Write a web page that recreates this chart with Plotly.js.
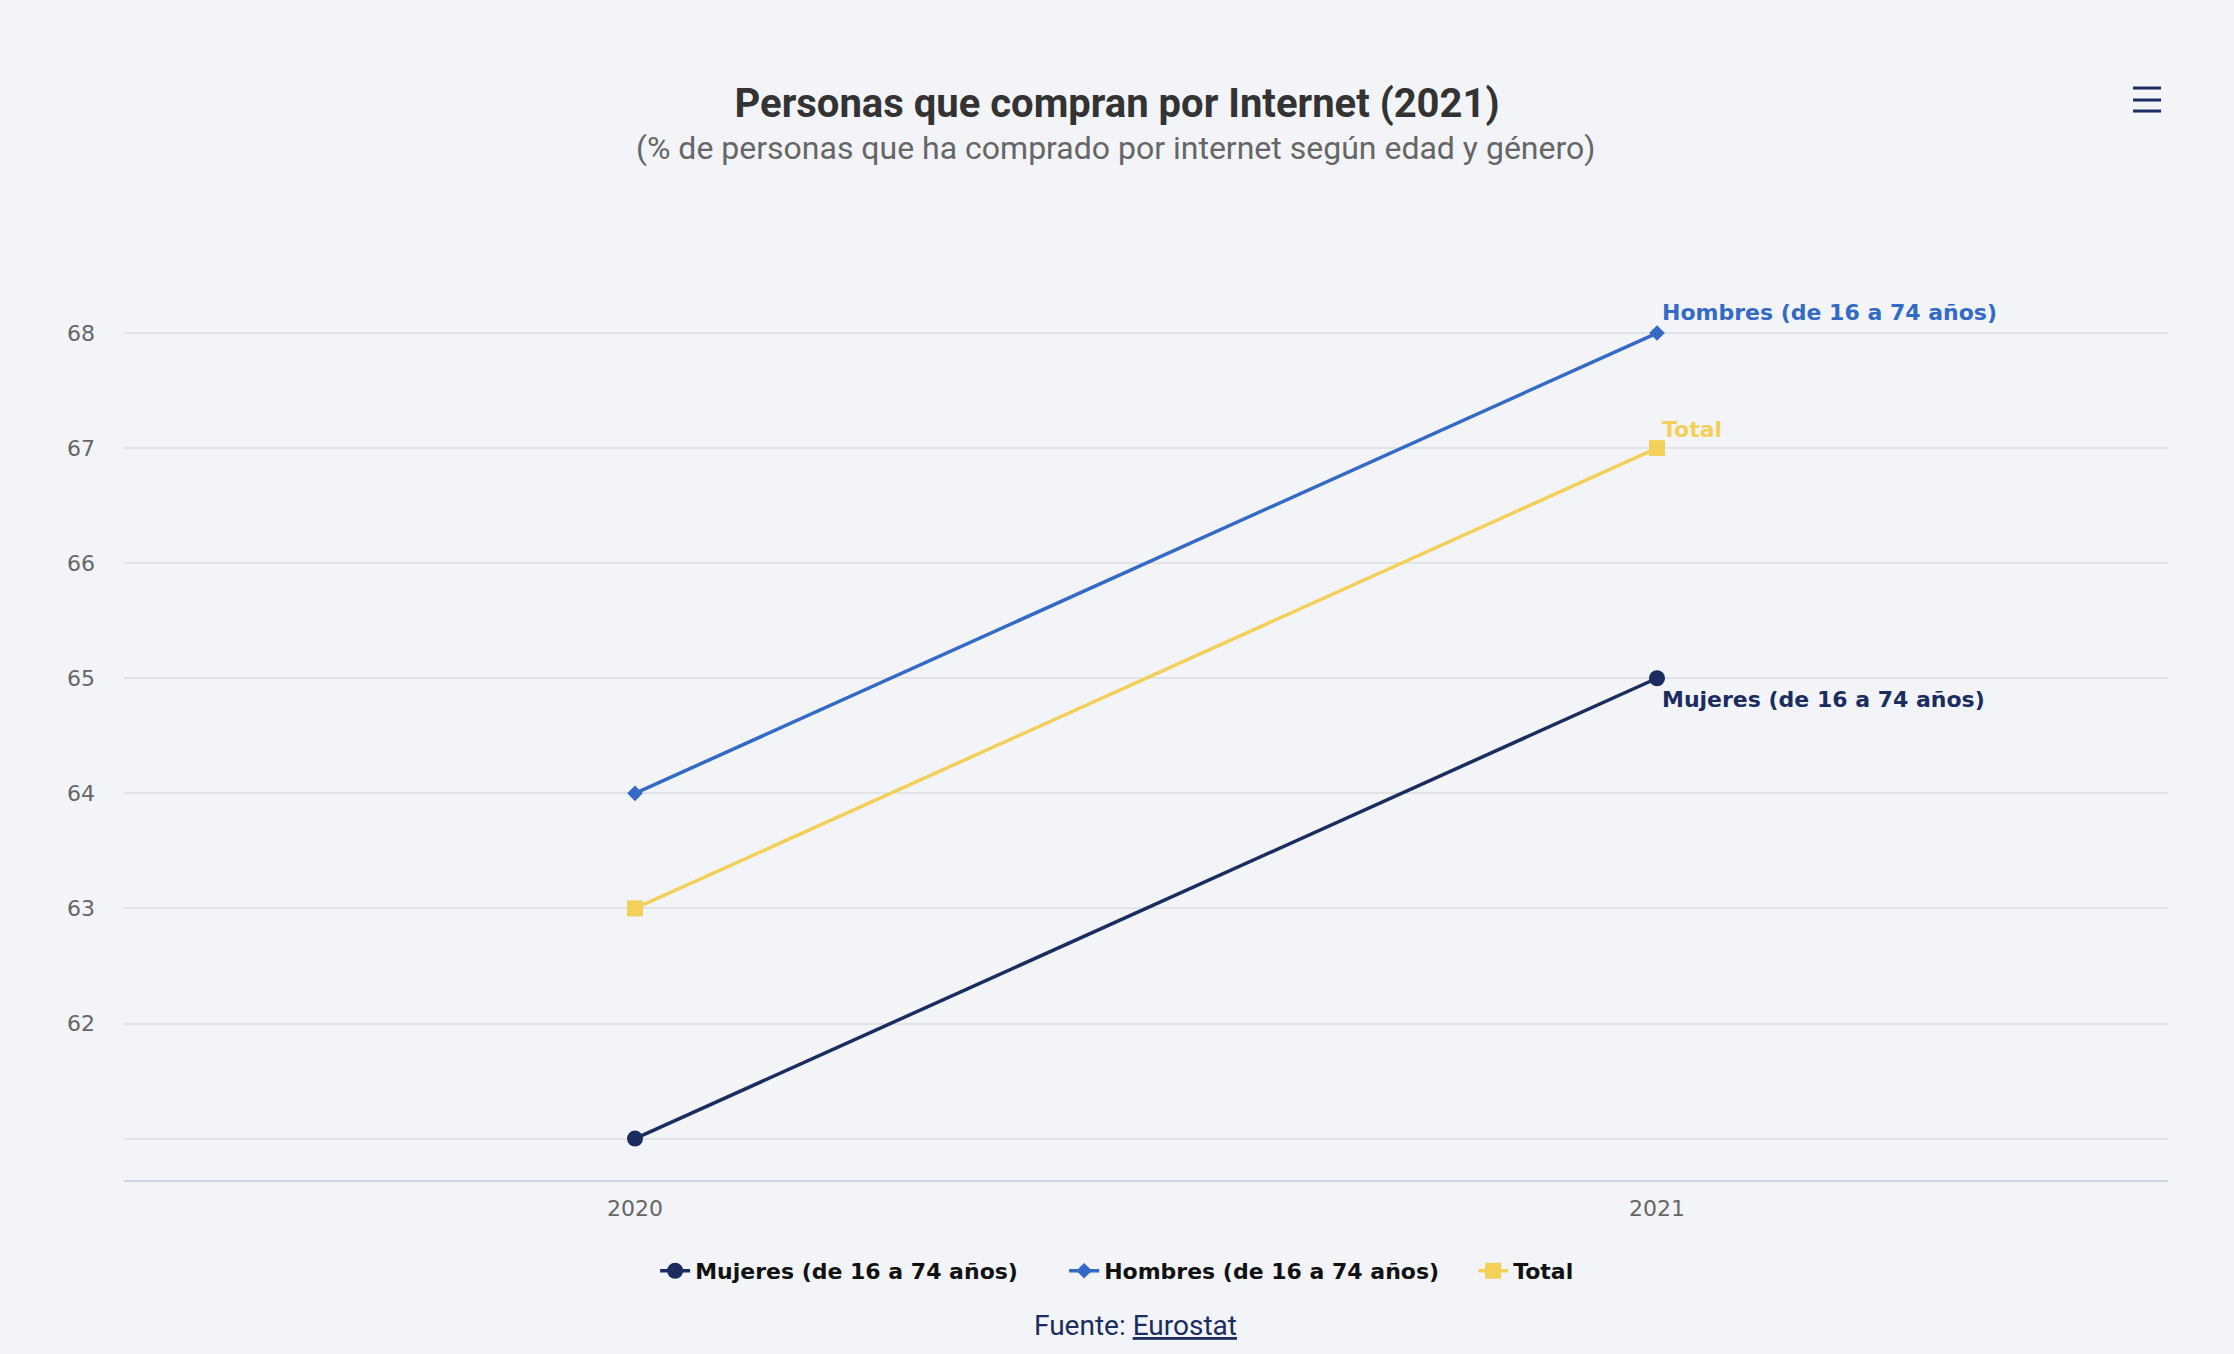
<!DOCTYPE html>
<html>
<head>
<meta charset="utf-8">
<script src="https://cdn.plot.ly/plotly-3.0.1.min.js"></script>
<style>
  html, body { margin: 0; padding: 0; background: #f2f4f8; }
  #chart { width: 2234px; height: 1354px; }
</style>
</head>
<body>
<div id="chart"></div>
<script>
// data
var years = [2020, 2021];
var mujeres = [61, 65];
var hombres = [64, 68];
var total = [63, 67];

var seriesNames = ['Mujeres (de 16 a 74 años)', 'Hombres (de 16 a 74 años)', 'Total'];
var seriesColors = ['#1b2d5f', '#3469c6', '#f3d05a'];
var yTicks = [61, 62, 63, 64, 65, 66, 67, 68];
var yTickText = ['', '62', '63', '64', '65', '66', '67', '68'];

var labelFont = { family: 'DejaVu Sans, Verdana, sans-serif', size: 22, weight: 'bold' };
var tickFont = { family: 'DejaVu Sans, Verdana, sans-serif', size: 22, color: '#666666' };

function makeTrace(name, values, color, symbol, size) {
    return {
        x: years,
        y: values,
        name: name,
        type: 'scatter',
        mode: 'lines+markers',
        line: { color: color, width: 3.5 },
        marker: { color: color, symbol: symbol, size: size },
        hoverinfo: 'x+y+name'
    };
}

var data = [
    makeTrace(seriesNames[0], mujeres, seriesColors[0], 'circle', 16),
    makeTrace(seriesNames[1], hombres, seriesColors[1], 'diamond', 12),
    makeTrace(seriesNames[2], total, seriesColors[2], 'square', 16)
];

// end-of-line labels next to the 2021 points
var endLabels = [
    { text: seriesNames[1], y: hombres[1], color: seriesColors[1], yanchor: 'bottom', yshift: 6 },
    { text: seriesNames[2], y: total[1], color: seriesColors[2], yanchor: 'bottom', yshift: 4 },
    { text: seriesNames[0], y: mujeres[1], color: seriesColors[0], yanchor: 'top', yshift: -7 }
].map(function (l) {
    return {
        x: years[1], y: l.y, xref: 'x', yref: 'y',
        text: l.text, showarrow: false,
        xanchor: 'left', yanchor: l.yanchor, xshift: 3, yshift: l.yshift,
        font: Object.assign({}, labelFont, { color: l.color })
    };
});

var layout = {
    width: 2234,
    height: 1354,
    paper_bgcolor: '#f2f4f8',
    plot_bgcolor: '#f2f4f8',
    margin: { l: 124, r: 66, t: 264, b: 174 },
    title: {
        text: 'Personas que compran por Internet (2021)',
        font: { family: 'Roboto, sans-serif', size: 40, weight: 'bold', color: '#333333' },
        x: 0.5, xanchor: 'center',
        y: 1 - 103 / 1354, yanchor: 'middle', yref: 'container'
    },
    xaxis: {
        range: [2019.5, 2021.5],
        tickvals: years,
        showgrid: false,
        zeroline: false,
        showline: true,
        linecolor: '#ccd6eb',
        linewidth: 1.5,
        ticks: '',
        ticklabelstandoff: 8,
        tickfont: tickFont,
        fixedrange: true
    },
    yaxis: {
        range: [60.64, 68.6],
        tickvals: yTicks,
        ticktext: yTickText,
        showgrid: true,
        gridcolor: '#e2e3e7',
        gridwidth: 1.5,
        zeroline: false,
        showline: false,
        ticks: '',
        ticklabelstandoff: 28,
        tickfont: tickFont,
        fixedrange: true
    },
    showlegend: true,
    legend: {
        orientation: 'h',
        x: 0.56, xanchor: 'center',
        y: -0.0993, yanchor: 'middle',
        entrywidth: 364,
        entrywidthmode: 'pixels',
        font: { family: 'DejaVu Sans, Verdana, sans-serif', size: 22, weight: 'bold', color: '#111111' },
        bgcolor: 'rgba(0,0,0,0)'
    },
    annotations: endLabels.concat([
        {
            text: '(% de personas que ha comprado por internet según edad y género)',
            xref: 'paper', yref: 'paper', x: 0.485, y: 1.1266,
            xanchor: 'center', yanchor: 'middle', showarrow: false,
            font: { family: 'Roboto, sans-serif', size: 32, color: '#666666' }
        },
        {
            text: 'Fuente: <u>Eurostat</u>',
            xref: 'paper', yref: 'paper', x: 0.495, y: -0.1583,
            xanchor: 'center', yanchor: 'middle', showarrow: false,
            font: { family: 'Roboto, sans-serif', size: 28, color: '#1b2d5f' }
        }
    ]),
    // hamburger menu icon, top right
    shapes: [1.1921, 1.1790, 1.1670].map(function (yy) {
        return {
            type: 'line', xref: 'paper', yref: 'paper',
            x0: 0.9829, x1: 0.9966, y0: yy, y1: yy,
            line: { color: '#1b2d5f', width: 3 }
        };
    })
};

Plotly.newPlot('chart', data, layout, { displayModeBar: false });
</script>
</body>
</html>
